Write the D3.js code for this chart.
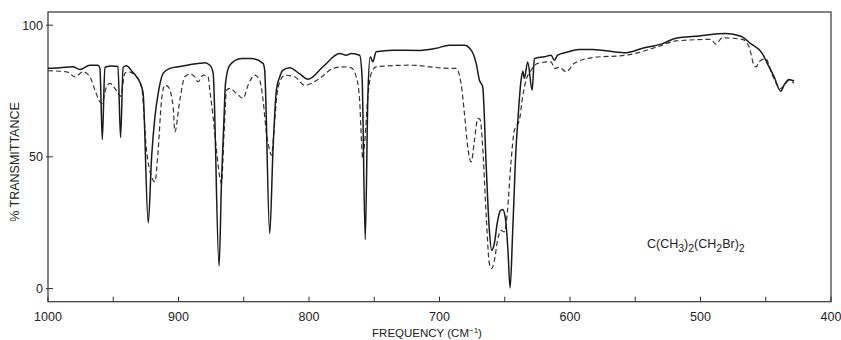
<!DOCTYPE html>
<html>
<head>
<meta charset="utf-8">
<script src="https://cdn.jsdelivr.net/npm/d3@7"></script>
<style>
  html, body { margin: 0; padding: 0; background: #fff; }
  svg { display: block; font-family: "Liberation Sans", Arial, sans-serif; }
</style>
</head>
<body>
<svg id="chart" width="841" height="340"></svg>
<script>
// wavenumber (cm-1) and % transmittance
const solidFreq = [1000, 990.8, 980.9, 975.5, 967.9, 961.7, 960.2, 958.4, 956.4, 951.0, 946.4, 944.4, 942.4, 939.8, 935.7, 932.1, 928.3, 927.1, 923.2, 920.6, 918.1, 915.6, 911.8, 906.6, 899.0, 883.7, 879.9, 876.0, 873.5, 868.9, 867.1, 865.1, 864.0, 860.7, 851.8, 844.1, 835.2, 834.0, 830.1, 827.6, 825.0, 822.4, 819.9, 814.8, 807.1, 800.8, 789.3, 776.5, 771.4, 767.6, 761.2, 759.3, 756.9, 754.9, 753.1, 751.1, 748.5, 735.7, 715.3, 702.5, 692.4, 680.9, 675.7, 671.9, 669.4, 666.9, 664.3, 661.8, 660.0, 658.0, 655.7, 653.4, 651.6, 649.6, 647.6, 645.9, 643.9, 641.3, 640.1, 637.5, 636.1, 635.0, 632.4, 629.0, 627.3, 619.6, 614.5, 612.0, 609.5, 602.0, 593.2, 582.7, 558.4, 544.4, 529.1, 518.9, 501.0, 480.6, 469.1, 461.5, 452.6, 448.8, 443.6, 438.5, 436.0, 432.2, 428.3];
const solidT = [83.6, 83.8, 84.2, 83.2, 84.8, 84.8, 83.5, 56.6, 84.0, 84.5, 84.3, 57.3, 84.0, 84.6, 82.5, 80.4, 76.6, 74, 24.9, 50, 65, 74, 81.7, 83.6, 84.3, 85.5, 85.7, 84.8, 82, 8.5, 39.9, 65.2, 77.9, 84.8, 87.3, 87.3, 85.5, 83, 20.9, 52.5, 75.3, 80.4, 82.9, 83.8, 81.5, 79.5, 84.2, 89.2, 88.6, 89.2, 88.6, 80, 18.6, 72.8, 88, 86.1, 89.9, 90.5, 90.4, 91.2, 92.4, 92.4, 90.5, 85.5, 79.1, 76.6, 47.5, 22.1, 14.5, 17, 25, 29.5, 30, 27, 15, 0.2, 22, 53.8, 62.7, 79.1, 82.5, 79.8, 86, 75.3, 87.3, 88, 88.6, 86.7, 88.6, 89.8, 90.8, 90.8, 89.5, 91.2, 93, 95, 95.9, 96.8, 95.8, 93, 89.2, 85.5, 80.4, 74.9, 77.2, 79.4, 78.8];

const dashFreq = [1000, 985.7, 979.3, 973.0, 967.9, 964.0, 960.2, 958.7, 955.6, 952.6, 948.7, 946.2, 944.4, 941.1, 938.5, 932.1, 928.3, 924.5, 920.6, 918.1, 915.6, 913.0, 910.5, 907.9, 904.1, 902.8, 899.0, 895.2, 891.3, 887.5, 885.0, 881.1, 877.3, 876.0, 873.5, 870.9, 868.4, 867.1, 865.1, 863.2, 860.7, 855.6, 850.5, 846.7, 841.6, 837.8, 835.2, 832.6, 830.1, 828.8, 826.8, 825.0, 822.4, 818.6, 811.0, 803.3, 791.8, 781.7, 774.2, 767.6, 763.8, 761.2, 759.7, 758.9, 757.4, 754.9, 752.3, 748.5, 723.0, 692.4, 687.3, 683.5, 680.9, 678.4, 675.7, 673.2, 670.7, 668.9, 666.9, 664.3, 661.8, 660.0, 658.0, 655.5, 652.9, 650.4, 649.1, 647.9, 645.3, 642.6, 638.8, 636.3, 633.7, 629.8, 624.8, 614.5, 612.0, 608.2, 603.0, 596.7, 582.7, 557.1, 531.6, 518.9, 492.1, 488.3, 483.3, 467.9, 462.8, 459.0, 457.6, 453.8, 450.0, 444.9, 438.5, 432.2, 428.3];
const dashT = [82.7, 82.3, 80.4, 82.3, 80.4, 75.3, 70.9, 70.3, 76, 77.9, 76, 74.1, 73, 81.7, 82.3, 80.4, 76.6, 52.5, 42.4, 40.5, 52.5, 71.5, 77.2, 76.6, 69, 59.5, 71.5, 80.4, 81.4, 80.4, 78.5, 81, 80.4, 75.3, 65.2, 52.5, 42.4, 39.9, 58.9, 75.3, 76, 74.1, 72.2, 77.2, 81, 79.1, 71.5, 58.9, 52.5, 50.6, 60, 71.5, 78.5, 81, 80.4, 77.2, 79.8, 83.6, 84.2, 83.8, 80.4, 71.5, 55, 49.4, 55, 72.8, 81.7, 84.2, 84.8, 83.6, 83.6, 77.9, 66.5, 53.8, 48.1, 56.3, 64.6, 64.2, 53.8, 28.5, 9.5, 7.6, 10.5, 18.3, 22.1, 21.5, 24, 29.7, 47.5, 60.1, 63.9, 72.8, 79.1, 82.9, 85.5, 86.1, 83.6, 84, 82.3, 85.5, 87.7, 88.6, 92, 94, 94.6, 92.8, 95.2, 94.6, 91.8, 84.8, 84.2, 86.7, 87.2, 81, 76, 79, 77.9];

const xTicks = [1000, 950, 900, 850, 800, 750, 700, 650, 600, 550, 500, 450, 400];
const xLabels = [1000, 900, 800, 700, 600, 500, 400];
const yLabels = [0, 50, 100];

const svg = d3.select('#chart');
const plotLeft = 48, plotRight = 831, plotTop = 12, plotBottom = 301.7;

const x = d3.scaleLinear().domain([1000, 400]).range([plotLeft, plotRight]);
const y = d3.scaleLinear().domain([-5, 105]).range([plotBottom, plotTop]);

// frame
svg.append('rect')
    .attr('x', plotLeft).attr('y', plotTop)
    .attr('width', plotRight - plotLeft).attr('height', plotBottom - plotTop)
    .attr('fill', 'none')
    .attr('stroke', '#333')
    .attr('stroke-width', 1.2);

// x ticks (inward)
svg.append('g').selectAll('line')
    .data(xTicks)
    .join('line')
    .attr('x1', d => x(d)).attr('x2', d => x(d))
    .attr('y1', plotBottom).attr('y2', plotBottom - 5)
    .attr('stroke', '#333');

svg.append('g').selectAll('text')
    .data(xLabels)
    .join('text')
    .attr('x', d => x(d))
    .attr('y', 321)
    .attr('text-anchor', 'middle')
    .attr('font-size', 12.5)
    .attr('fill', '#222')
    .text(d => d);

// y ticks
svg.append('g').selectAll('line')
    .data(yLabels)
    .join('line')
    .attr('x1', plotLeft - 2).attr('x2', plotLeft + 5)
    .attr('y1', d => y(d)).attr('y2', d => y(d))
    .attr('stroke', '#333');

svg.append('g').selectAll('text')
    .data(yLabels)
    .join('text')
    .attr('x', plotLeft - 5)
    .attr('y', d => y(d) + 4.5)
    .attr('text-anchor', 'end')
    .attr('font-size', 12.5)
    .attr('fill', '#222')
    .text(d => d);

// axis titles
const xt = svg.append('text')
    .attr('x', 427).attr('y', 337)
    .attr('text-anchor', 'middle')
    .attr('font-size', 11.5)
    .attr('fill', '#222');
xt.append('tspan').text('FREQUENCY (CM');
xt.append('tspan').attr('dy', -4).attr('font-size', 8).text('−1');
xt.append('tspan').attr('dy', 4).text(')');

svg.append('text')
    .attr('transform', 'translate(19,162) rotate(-90)')
    .attr('text-anchor', 'middle')
    .attr('font-size', 12.5)
    .attr('fill', '#222')
    .text('% TRANSMITTANCE');

// compound label
const lab = svg.append('text')
    .attr('x', 647).attr('y', 248)
    .attr('font-size', 12.5)
    .attr('fill', '#222');
[['C(CH', 0], ['3', 1], [')', 0], ['2', 1], ['(CH', 0], ['2', 1], ['Br)', 0], ['2', 1]].forEach(([t, sub], i, arr) => {
    const prev = i > 0 ? arr[i - 1][1] : 0;
    lab.append('tspan')
        .attr('dy', (sub - prev) * 4)
        .attr('font-size', sub ? 10.5 : 12.5)
        .text(t);
});

// spectra
const line = d3.line()
    .x(d => x(d[0]))
    .y(d => y(d[1]))
    .curve(d3.curveMonotoneX);

svg.append('path')
    .datum(dashFreq.map((f, i) => [f, dashT[i]]))
    .attr('d', line)
    .attr('fill', 'none')
    .attr('stroke', '#333')
    .attr('stroke-width', 1.2)
    .attr('stroke-dasharray', '5,3');

svg.append('path')
    .datum(solidFreq.map((f, i) => [f, solidT[i]]))
    .attr('d', line)
    .attr('fill', 'none')
    .attr('stroke', '#1a1a1a')
    .attr('stroke-width', 1.5);
</script>
</body>
</html>
